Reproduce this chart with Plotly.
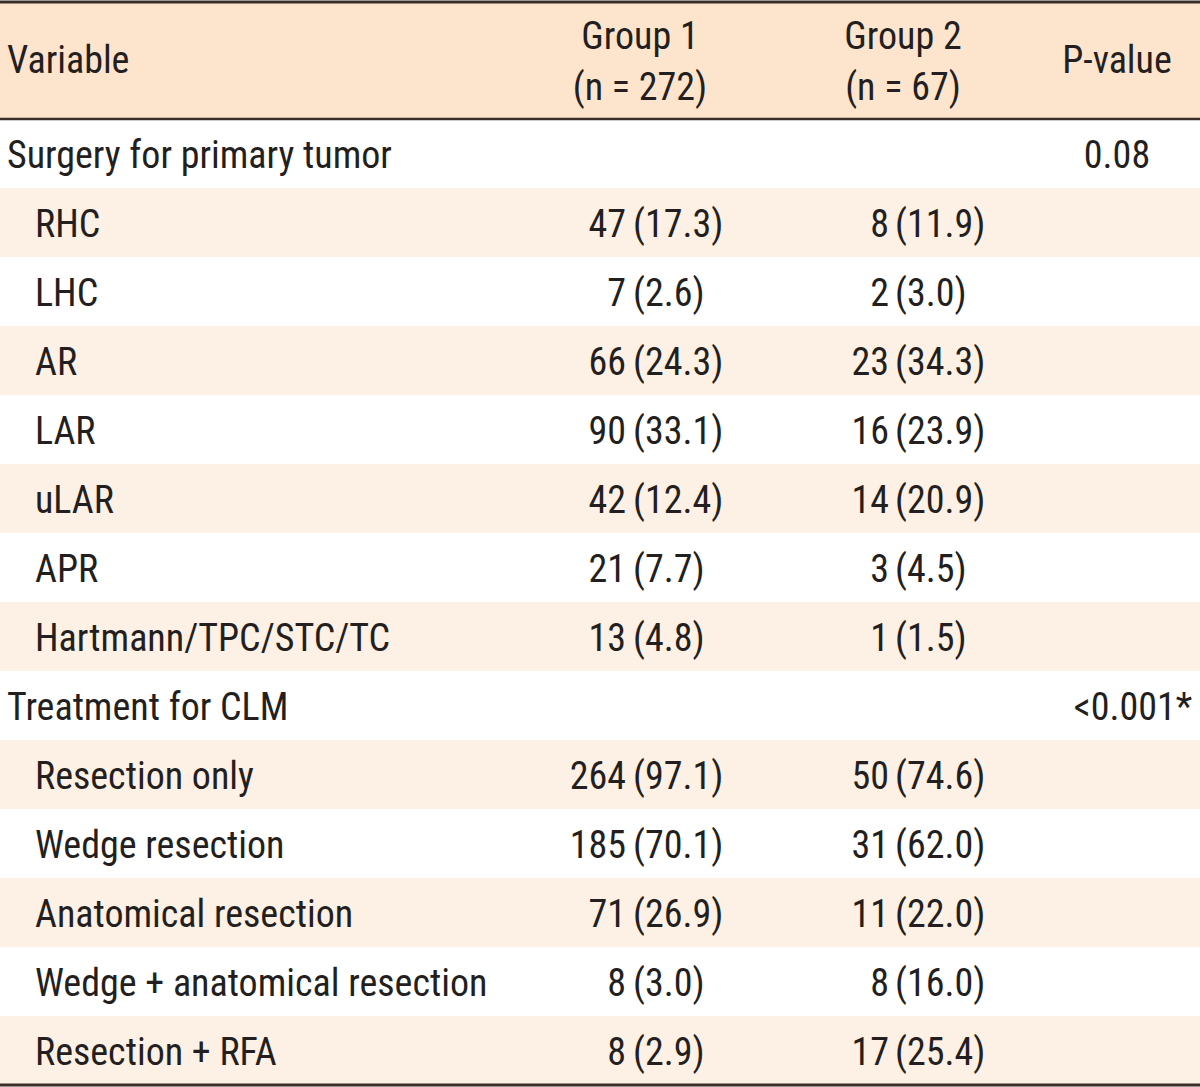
import plotly.graph_objects as go

# ---- data ----
labels = ["Surgery for primary tumor", "RHC", "LHC", "AR", "LAR", "uLAR", "APR",
          "Hartmann/TPC/STC/TC", "Treatment for CLM", "Resection only", "Wedge resection",
          "Anatomical resection", "Wedge + anatomical resection", "Resection + RFA"]
levels = [0, 1, 1, 1, 1, 1, 1, 1, 0, 1, 1, 1, 1, 1]
g1_n = ["", "47", "7", "66", "90", "42", "21", "13", "", "264", "185", "71", "8", "8"]
g1_pct = ["", "(17.3)", "(2.6)", "(24.3)", "(33.1)", "(12.4)", "(7.7)", "(4.8)", "",
          "(97.1)", "(70.1)", "(26.9)", "(3.0)", "(2.9)"]
g2_n = ["", "8", "2", "23", "16", "14", "3", "1", "", "50", "31", "11", "8", "17"]
g2_pct = ["", "(11.9)", "(3.0)", "(34.3)", "(23.9)", "(20.9)", "(4.5)", "(1.5)", "",
          "(74.6)", "(62.0)", "(22.0)", "(16.0)", "(25.4)"]
p_values = ["0.08", "", "", "", "", "", "", "", "<0.001*", "", "", "", "", ""]
header_cols = ["Variable", "Group 1", "(n = 272)", "Group 2", "(n = 67)", "P-value"]

# ---- style ----
W, H = 1200, 1087
FONT = "Roboto Condensed, Liberation Sans Narrow, DejaVu Sans Condensed, sans-serif"
FS = 38
TXT = "#231f20"
HEAD_BG = "#fde4cd"
ROW_BG = "#fdf0e4"
LINE = "#3a2e28"
top, head_bot, bottom = 2, 119, 1085
DY = 5  # vertical text nudge
row_h = (bottom - head_bot) / len(labels)
ys = [head_bot + row_h * (i + 0.5) + DY for i in range(len(labels))]

fig = go.Figure()
shapes = [dict(type="rect", x0=0, x1=W, y0=top, y1=head_bot, fillcolor=HEAD_BG,
               line_width=0, layer="below")]
for i in range(len(labels)):
    if i % 2 == 1:
        shapes.append(dict(type="rect", x0=0, x1=W, y0=head_bot + row_h * i,
                           y1=head_bot + row_h * (i + 1), fillcolor=ROW_BG,
                           line_width=0, layer="below"))
for yy, wdt in [(top, 3), (head_bot, 2.5), (bottom, 3)]:
    shapes.append(dict(type="line", x0=0, x1=W, y0=yy, y1=yy,
                       line=dict(color=LINE, width=wdt)))

font = dict(family=FONT, size=FS, color=TXT)

def add(x, y, text, pos):
    fig.add_trace(go.Scatter(x=x, y=y, text=text, mode="text", textposition=pos,
                             textfont=font, hoverinfo="skip", showlegend=False))

# header
add([7], [60 + DY - 2], [header_cols[0]], "middle right")
add([640, 640], [37 + DY - 3, 85 + DY], header_cols[1:3], "middle center")
add([903, 903], [37 + DY - 3, 85 + DY], header_cols[3:5], "middle center")
add([1117], [60 + DY - 2], [header_cols[5]], "middle center")

# body
add([7 + 28 * lv for lv in levels], ys, labels, "middle right")
add([626] * len(ys), ys, g1_n, "middle left")
add([633] * len(ys), ys, g1_pct, "middle right")
add([889] * len(ys), ys, g2_n, "middle left")
add([895] * len(ys), ys, g2_pct, "middle right")
p_x = [1117 if not p.startswith("<") else 1133 for p in p_values]
add(p_x, ys, p_values, "middle center")

fig.update_layout(
    width=W, height=H, margin=dict(l=0, r=0, t=0, b=0),
    paper_bgcolor="white", plot_bgcolor="white", shapes=shapes,
    xaxis=dict(range=[0, W], visible=False, fixedrange=True),
    yaxis=dict(range=[H, 0], visible=False, fixedrange=True),
)
fig.write_html("out.html", config={"displayModeBar": False},
               post_script="document.body.style.margin='0';")
